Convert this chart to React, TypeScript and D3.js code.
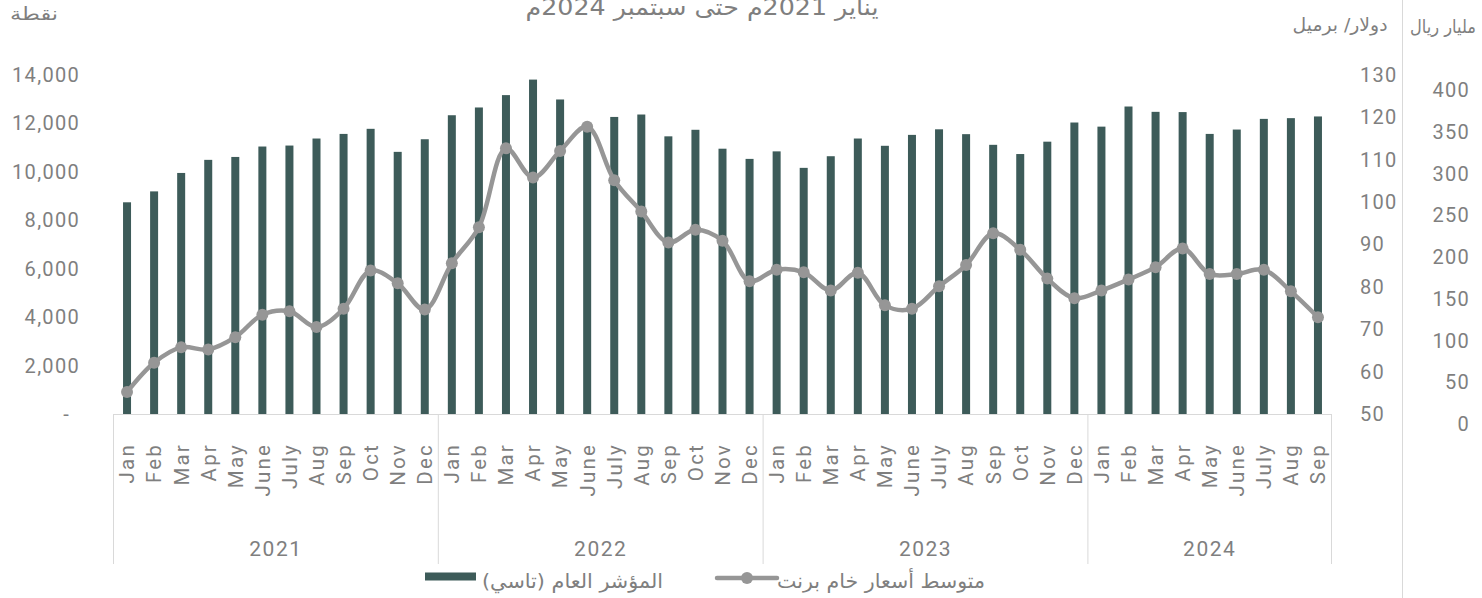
import React from 'react';
import * as d3 from 'd3';

const years = ['2021', '2022', '2023', '2024'];
const months = ['Jan', 'Feb', 'Mar', 'Apr', 'May', 'June', 'July', 'Aug', 'Sep', 'Oct', 'Nov', 'Dec'];

// TASI index, points (Jan 2021 .. Sep 2024)
const tasi = [
  8730, 9180, 9940, 10480, 10600, 11030, 11070, 11360, 11550, 11760, 10810, 11330,
  12320, 12640, 13150, 13790, 12970, 11890, 12250, 12350, 11450, 11720, 10940, 10520,
  10830, 10150, 10630, 11360, 11060, 11510, 11740, 11540, 11100, 10720, 11230, 12020,
  11850, 12680, 12460, 12450, 11550, 11730, 12170, 12200, 12270,
];

// Brent average, USD/barrel
const brent = [
  55.2, 62.1, 65.7, 65.2, 68.1, 73.4, 74.2, 70.5, 74.8, 83.8, 80.8, 74.6,
  85.5, 94.0, 112.6, 105.7, 112.0, 117.7, 105.1, 97.7, 90.4, 93.4, 90.8, 81.3,
  84.0, 83.4, 79.1, 83.3, 75.6, 74.8, 80.1, 85.1, 92.6, 88.7, 81.9, 77.3,
  79.1, 81.7, 84.6, 89.0, 83.0, 83.0, 84.0, 78.9, 72.8,
];

const leftTicks = [0, 2000, 4000, 6000, 8000, 10000, 12000, 14000];
const brentTicks = [50, 60, 70, 80, 90, 100, 110, 120, 130];
const riyalTicks = [0, 50, 100, 150, 200, 250, 300, 350, 400];

const periods = tasi.map((_, i) => ({ year: years[Math.floor(i / 12)], month: months[i % 12], i }));

const W = 1482;
const H = 598;
const GRAY = '#7f7f7f';
const LATIN = "Roboto, 'DejaVu Sans', sans-serif";
const ARABIC = "'DejaVu Sans', sans-serif";

export default function App() {
  const x = d3.scaleBand<number>().domain(periods.map(p => p.i)).range([113.5, 1331.5]);
  const yL = d3.scaleLinear().domain([0, 14000]).range([414, 74.5]);
  const yB = d3.scaleLinear().domain([50, 130]).range([414, 74.5]);
  const yR = d3.scaleLinear().domain([0, 400]).range([424, 90]);
  const cx = (i: number) => (x(i) as number) + x.bandwidth() / 2;
  const barW = 8;

  const line = d3.line<number>()
    .x((_, i) => cx(i))
    .y(d => yB(d))
    .curve(d3.curveCatmullRom.alpha(0.5));

  const fmt = d3.format(',');
  const axisY = yL(0);

  const groupEdges = years.map((_, g) => {
    const first = g * 12;
    const last = Math.min(first + 11, periods.length - 1);
    return { x0: x(first) as number, x1: (x(last) as number) + x.bandwidth() };
  });

  return (
    <svg width={W} height={H} style={{ position: 'absolute', left: 0, top: 0, background: '#fff' }}>
      {/* title (cut at top, as in the source) */}
      <text x={702} y={15} textAnchor="middle" fontFamily={ARABIC} fontSize={23} fill={GRAY} textLength={353} lengthAdjust="spacingAndGlyphs">
        يناير 2021م حتى سبتمبر 2024م
      </text>

      {/* axis titles */}
      <text x={34} y={20} textAnchor="middle" fontFamily={ARABIC} fontSize={18} fill={GRAY} textLength={48} lengthAdjust="spacingAndGlyphs">نقطة</text>
      <text x={1340} y={31} textAnchor="middle" fontFamily={ARABIC} fontSize={18} fill={GRAY} textLength={95} lengthAdjust="spacingAndGlyphs">دولار/ برميل</text>
      <text x={1443} y={33} textAnchor="middle" fontFamily={ARABIC} fontSize={18} fill={GRAY} textLength={66} lengthAdjust="spacingAndGlyphs">مليار ريال</text>

      {/* separator for the second right axis */}
      <line x1={1402.5} x2={1402.5} y1={0} y2={H} stroke="#d9d9d9" strokeWidth={1} />

      {/* left ticks */}
      {leftTicks.map(t => (
        <text key={t} x={t === 0 ? 70 : 80} y={yL(t)} dy="0.36em" textAnchor="end" fontFamily={LATIN} fontSize={20} letterSpacing={1.3} fill={GRAY}>
          {t === 0 ? '-' : fmt(t)}
        </text>
      ))}

      {/* brent ticks */}
      {brentTicks.map(t => (
        <text key={t} x={1360} y={yB(t)} dy="0.36em" textAnchor="start" fontFamily={LATIN} fontSize={20} letterSpacing={1.3} fill={GRAY}>
          {t}
        </text>
      ))}

      {/* riyal ticks */}
      {riyalTicks.map(t => (
        <text key={t} x={1470} y={yR(t)} dy="0.36em" textAnchor="end" fontFamily={LATIN} fontSize={20} letterSpacing={1.3} fill={GRAY}>
          {t}
        </text>
      ))}

      {/* bars */}
      {tasi.map((v, i) => (
        <rect key={i} x={cx(i) - barW / 2} y={yL(v)} width={barW} height={axisY - yL(v)} fill="#3d5b59" />
      ))}

      {/* category axis */}
      <line x1={113.5} x2={1331.5} y1={axisY + 0.5} y2={axisY + 0.5} stroke="#d9d9d9" strokeWidth={1} />
      {groupEdges.map((g, k) => (
        <line key={'e' + k} x1={g.x0} x2={g.x0} y1={axisY} y2={564} stroke="#d9d9d9" strokeWidth={1} />
      ))}
      <line x1={1331.5} x2={1331.5} y1={axisY} y2={564} stroke="#d9d9d9" strokeWidth={1} />

      {periods.map(p => (
        <text key={'m' + p.i} transform={`translate(${cx(p.i)},443) rotate(-90)`} dy="0.36em" textAnchor="end"
          fontFamily={LATIN} fontSize={20.5} letterSpacing={2.2} fill={GRAY}>
          {p.month}
        </text>
      ))}

      {groupEdges.map((g, k) => (
        <text key={'y' + k} x={(g.x0 + g.x1) / 2} y={556} textAnchor="middle" fontFamily={LATIN} fontSize={21} letterSpacing={1.5} fill={GRAY}>
          {years[k]}
        </text>
      ))}

      {/* brent line */}
      <path d={line(brent) || ''} fill="none" stroke="#969696" strokeWidth={4.5} strokeLinejoin="round" />
      {brent.map((v, i) => (
        <circle key={'c' + i} cx={cx(i)} cy={yB(v)} r={6} fill="#969696" />
      ))}

      {/* legend */}
      <rect x={425} y={572.5} width={51} height={8} fill="#3d5b59" />
      <text x={572.5} y={588} textAnchor="middle" fontFamily={ARABIC} fontSize={20} fill={GRAY} textLength={181} lengthAdjust="spacingAndGlyphs">
        المؤشر العام (تاسي)
      </text>
      <line x1={717} x2={777} y1={578} y2={578} stroke="#969696" strokeWidth={4.5} strokeLinecap="round" />
      <circle cx={747} cy={578} r={6} fill="#969696" />
      <text x={881} y={588} textAnchor="middle" fontFamily={ARABIC} fontSize={20} fill={GRAY} textLength={208} lengthAdjust="spacingAndGlyphs">
        متوسط أسعار خام برنت
      </text>
    </svg>
  );
}
